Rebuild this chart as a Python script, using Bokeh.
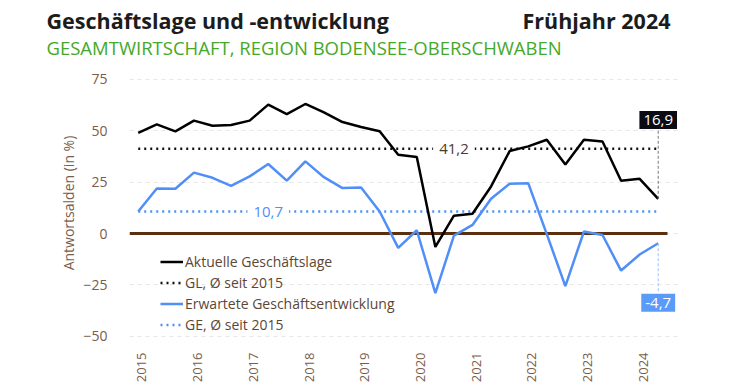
from bokeh.plotting import figure
from bokeh.models import (Label, FixedTicker, Legend, LegendItem, ColumnDataSource, Range1d)
from bokeh.core.properties import value
from bokeh.layouts import column
from bokeh.embed import file_html
from bokeh.resources import INLINE
import math

# ---- data ----
years = ["2015", "2016", "2017", "2018", "2019", "2020", "2021", "2022", "2023", "2024"]
surveys_per_year = 3
gl = [48.9, 53.1, 49.7, 54.9, 52.4, 52.8, 54.9, 62.7, 58.1, 63.0, 58.9, 54.2, 51.8, 49.7,
      38.3, 37.2, -6.5, 8.7, 9.6, 22.9, 40.1, 42.4, 45.6, 33.6, 45.6, 44.8, 25.7, 26.6, 16.9]
ge = [10.7, 21.9, 21.8, 29.6, 27.1, 23.2, 27.8, 33.8, 25.7, 35.1, 27.4, 22.1, 22.4, 10.7,
      -7.0, 1.6, -29.0, -1.0, 4.2, 16.9, 24.2, 24.5, -0.3, -25.6, 1.0, -0.7, -18.0, -10.2, -4.7]
gl_avg = 41.2
ge_avg = 10.7
y_ticks = [-50, -25, 0, 25, 50, 75]
title_text = "Geschäftslage und -entwicklung"
period_text = "Frühjahr 2024"
subtitle_text = "GESAMTWIRTSCHAFT, REGION BODENSEE-OBERSCHWABEN"

FONT = "Open Sans"
BLACK = "#000000"
BLUE = "#4f8ff7"
BROWN_TXT = "#7a5c48"
LEG_TXT = "#5b4636"

# ---- header figure (titles) ----
W = 750
H_HEAD = 60
head = figure(width=W, height=H_HEAD, output_backend="svg", toolbar_location=None,
              x_range=Range1d(0, W), y_range=Range1d(H_HEAD, 0),
              x_axis_type=None, y_axis_type=None,
              min_border_left=0, min_border_right=0, min_border_top=0, min_border_bottom=0)
head.outline_line_color = None
head.grid.visible = False
head.text(x=[46], y=[20], text=[title_text], text_font=value(FONT), text_font_size="21.5px",
          text_font_style="bold", text_color="#1c1c1c", text_baseline="alphabetic")
head.text(x=[670], y=[20], text=[period_text], text_font=value(FONT), text_font_size="21.5px",
          text_font_style="bold", text_color="#1c1c1c", text_baseline="alphabetic",
          text_align="right")
head.text(x=[46], y=[47], text=[subtitle_text], text_font=value(FONT), text_font_size="18.5px",
          text_color="#45a829", text_baseline="alphabetic")

# ---- main chart ----
x = list(range(len(gl)))
src = ColumnDataSource(dict(x=x, gl=gl, ge=ge))
last = len(gl) - 1
x_lo, x_hi = -0.47, 29.2

p = figure(width=W, height=391 - H_HEAD, output_backend="svg", toolbar_location=None,
           x_range=(x_lo, x_hi), y_range=(-52.5, 82.2),
           min_border_left=129, min_border_right=70, min_border_top=4, min_border_bottom=50)
p.outline_line_color = None
p.background_fill_color = "white"
p.border_fill_color = "white"

for fig in (head, p):
    if "frame_align" in fig.properties():
        fig.frame_align = False

# grid
p.xgrid.visible = False
p.ygrid.ticker = FixedTicker(ticks=y_ticks)
p.ygrid.grid_line_color = "#e6e6e6"
p.ygrid.grid_line_dash = "4 4"
p.ygrid.grid_line_width = 1

# axes
p.yaxis.ticker = FixedTicker(ticks=y_ticks)
p.yaxis.axis_line_color = None
p.yaxis.major_tick_line_color = None
p.yaxis.minor_tick_line_color = None
p.yaxis.major_label_text_font = FONT
p.yaxis.major_label_text_font_size = "14px"
p.yaxis.major_label_text_color = BROWN_TXT
p.yaxis.major_label_standoff = 16
p.yaxis.axis_label = "Antwortsalden (in %)"
p.yaxis.axis_label_text_font = FONT
p.yaxis.axis_label_text_font_size = "14px"
p.yaxis.axis_label_text_font_style = "normal"
p.yaxis.axis_label_text_color = BROWN_TXT
p.yaxis.axis_label_standoff = 2

year_ticks = [i * surveys_per_year + 0.2 for i in range(len(years))]
p.xaxis.ticker = FixedTicker(ticks=year_ticks)
p.xaxis.major_label_overrides = {t: y for t, y in zip(year_ticks, years)}
p.xaxis.major_label_orientation = math.pi / 2
p.xaxis.axis_line_color = None
p.xaxis.major_tick_line_color = None
p.xaxis.minor_tick_line_color = None
p.xaxis.major_label_text_font = FONT
p.xaxis.major_label_text_font_size = "13px"
p.xaxis.major_label_text_color = BROWN_TXT
p.xaxis.major_label_standoff = 5

# zero line
p.line([x_lo, last + 0.5], [0, 0], line_color="#5c2f0e", line_width=3)

# average lines
r_gla = p.line([0, last], [gl_avg, gl_avg], line_color="#111111", line_width=2.5, line_dash="2 4")
r_gea = p.line([0, last], [ge_avg, ge_avg], line_color=BLUE, line_width=2.5, line_dash="2 4")

# series
r_gl = p.line("x", "gl", source=src, line_color=BLACK, line_width=2.5)
r_ge = p.line("x", "ge", source=src, line_color=BLUE, line_width=2.5)

# average value labels
fmt = lambda v: f"{v:.1f}".replace(".", ",")
p.add_layout(Label(x=17, y=gl_avg, text=fmt(gl_avg), text_align="center", text_baseline="middle",
                   text_font=FONT, text_font_size="15px", text_color="#4b3a2f",
                   background_fill_color="white", padding=6))
p.add_layout(Label(x=7, y=ge_avg, text=fmt(ge_avg), text_align="center", text_baseline="middle",
                   text_font=FONT, text_font_size="15px", text_color=BLUE,
                   background_fill_color="white", padding=6))

# last-value callouts
gl_box_y = 55.2
ge_box_y = -33.6
p.segment(x0=[last], y0=[gl[-1]], x1=[last], y1=[gl_box_y - 5], line_color="#777777",
          line_width=1, line_dash="3 2")
p.segment(x0=[last], y0=[ge[-1]], x1=[last], y1=[ge_box_y + 5], line_color="#9cc0ff",
          line_width=1, line_dash="3 2")
p.add_layout(Label(x=last, y=gl_box_y, text=fmt(gl[-1]), text_align="center", text_baseline="middle",
                   text_font=FONT, text_font_size="15px", text_color="white",
                   background_fill_color="#0b0b14", padding=4))
p.add_layout(Label(x=last, y=ge_box_y, text=fmt(ge[-1]), text_align="center", text_baseline="middle",
                   text_font=FONT, text_font_size="15px", text_color="white",
                   background_fill_color="#5a9af9", padding=4))

# legend
legend = Legend(items=[
    LegendItem(label="Aktuelle Geschäftslage", renderers=[r_gl]),
    LegendItem(label="GL, Ø seit 2015", renderers=[r_gla]),
    LegendItem(label="Erwartete Geschäftsentwicklung", renderers=[r_ge]),
    LegendItem(label="GE, Ø seit 2015", renderers=[r_gea]),
], location=(31, 7), padding=0, margin=0, spacing=2, glyph_width=23, glyph_height=19,
    label_height=19, label_standoff=2, border_line_color=None, background_fill_alpha=0,
    label_text_font=FONT, label_text_font_size="14px", label_text_color=LEG_TXT)
p.add_layout(legend, "center")

layout = column(head, p, spacing=0)
open("out.html", "w").write(file_html(layout, INLINE))
